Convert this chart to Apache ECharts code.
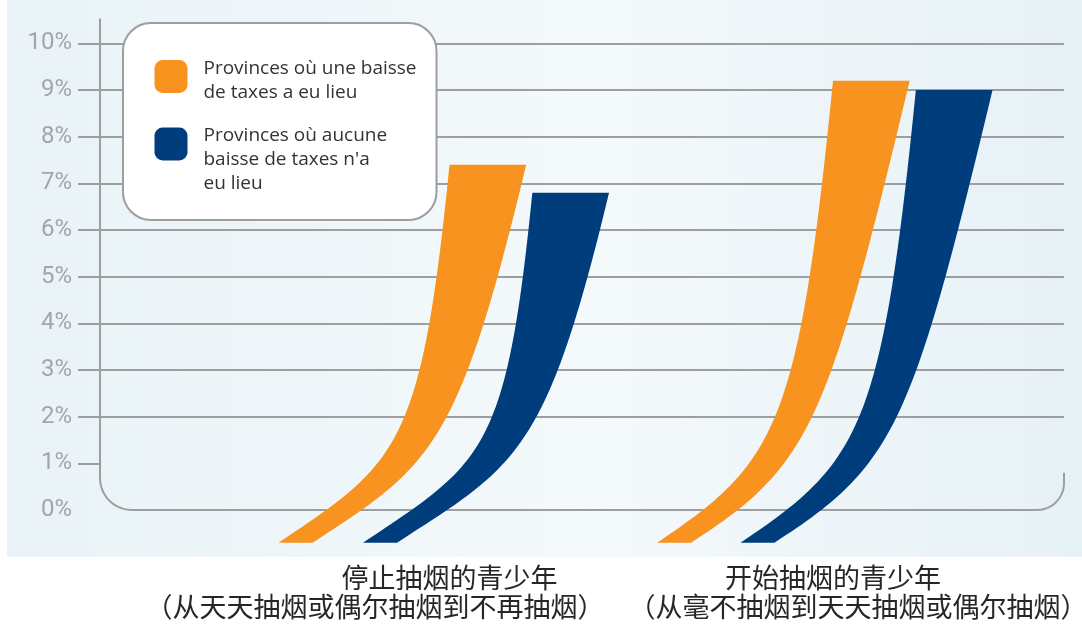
<!DOCTYPE html>
<html>
<head>
<meta charset="utf-8">
<script src="https://cdn.jsdelivr.net/npm/echarts@6/dist/echarts.min.js"></script>
<style>
html,body{margin:0;padding:0;background:#ffffff;}
#c{width:1082px;height:628px;}
</style>
</head>
<body>
<div id="c"></div>
<script>
// ---------- data ----------
const categories = ['停止抽烟的青少年', '开始抽烟的青少年'];
const categoryNotes = ['（从天天抽烟或偶尔抽烟到不再抽烟）', '（从毫不抽烟到天天抽烟或偶尔抽烟）'];
const seriesNames = ['Provinces où une baisse\nde taxes a eu lieu', 'Provinces où aucune\nbaisse de taxes n\'a\neu lieu'];
const taxCutValues = [7.4, 9.2];
const noTaxCutValues = [6.8, 9.0];
const yTicks = [0, 1, 2, 3, 4, 5, 6, 7, 8, 9, 10];

// ---------- style ----------
const ORANGE = '#F7931E';
const NAVY = '#003D7C';
const GRAY = '#9c9fa2';
const BASE = -0.7;             // ribbons start slightly below the 0% line
const noteShift = [-74.5, 25]; // horizontal shift of the second label line per category
const legendTextDrop = [7.5, 31]; // extra space above each legend text block
const CJK = 'Noto Sans CJK SC';

const chart = echarts.init(document.getElementById('c'));

function cubic(p0, p1, p2, p3, t) {
  const u = 1 - t;
  return [
    u*u*u*p0[0] + 3*u*u*t*p1[0] + 3*u*t*t*p2[0] + t*t*t*p3[0],
    u*u*u*p0[1] + 3*u*u*t*p1[1] + 3*u*t*t*p2[1] + t*t*t*p3[1]
  ];
}

function renderItem(params, api) {
  const idx = api.value(0), val = api.value(1);
  const k = params.seriesIndex;
  const B = api.size([1, 0])[0];
  const top = api.coord([idx, val]);
  const base = api.coord([idx, BASE]);
  const xc = top[0], yT = top[1], yB = base[1], H = yB - yT;
  const TL = xc + (k === 0 ? 0 : 0.216 * B);
  const TR = TL + 0.2 * B;
  const BL = TL - (0.388 * B + 0.0588 * H);
  const BR = BL + 0.0887 * B;
  const L0 = [BL, yB], L1 = [BL + 0.313 * B, yB - 0.209 * B], L2 = [TL - 0.075 * H, yT + 0.75 * H], L3 = [TL, yT];
  const R0 = [BR, yB], R1 = [BR + 0.31 * B, yB - 0.2 * B], R2 = [TR - 0.18 * H, yT + 0.75 * H], R3 = [TR, yT];
  const pts = [];
  const N = 60;
  for (let i = 0; i <= N; i++) pts.push(cubic(L0, L1, L2, L3, i / N));
  for (let i = N; i >= 0; i--) pts.push(cubic(R0, R1, R2, R3, i / N));
  return { type: 'polygon', shape: { points: pts }, style: { fill: api.visual('color') } };
}

const gridTop = 43.33, gridBottom = 118;
const labelFont = { fontFamily: CJK, fontSize: 27, lineHeight: 29, color: '#262626' };
const legendFont = { fontFamily: 'Open Sans', fontSize: 19, lineHeight: 24, color: '#333333' };

chart.setOption({
  animation: false,
  backgroundColor: '#ffffff',
  grid: [
    { left: 100, right: 18, top: gridTop, bottom: gridBottom, outerBoundsMode: 'none', containLabel: false },
    { left: 257.75, right: 57.25, top: gridTop, bottom: gridBottom, outerBoundsMode: 'none', containLabel: false }
  ],
  xAxis: [
    { gridIndex: 0, type: 'value', min: 0, max: 1, show: false },
    {
      gridIndex: 1, type: 'category', data: categories,
      axisLine: { show: false }, axisTick: { show: false }, splitLine: { show: false },
      axisLabel: Object.assign({
        interval: 0, margin: 53.5,
        formatter: function (v, i) { return '{t|' + v + '}\n{n' + i + '|' + categoryNotes[i] + '}'; },
        rich: {
          t: Object.assign({}, labelFont),
          n0: Object.assign({ padding: [0, -2 * noteShift[0], 0, 0] }, labelFont),
          n1: Object.assign({ padding: [0, 0, 0, 2 * noteShift[1]] }, labelFont)
        }
      }, labelFont)
    }
  ],
  yAxis: [
    {
      gridIndex: 0, type: 'value', min: yTicks[0], max: yTicks[yTicks.length - 1], interval: 1,
      axisLine: { show: false },
      axisTick: { show: true, length: 22, inside: false, customValues: yTicks.slice(1), lineStyle: { color: GRAY, width: 2 } },
      axisLabel: { margin: 28, color: '#a3a6a9', fontFamily: 'Roboto', fontSize: 24, formatter: function (v) { return v + '%'; } },
      splitLine: { show: true, showMinLine: false, lineStyle: { color: GRAY, width: 2 } }
    },
    { gridIndex: 1, type: 'value', min: yTicks[0], max: yTicks[yTicks.length - 1], show: false }
  ],
  legend: {
    left: 123, top: 23, orient: 'vertical',
    padding: [25.75, 20, 24.5, 31.5], itemGap: -11.75,
    itemWidth: 33, itemHeight: 33, icon: 'roundRect', selectedMode: false,
    backgroundColor: '#ffffff', borderColor: GRAY, borderWidth: 2, borderRadius: 28,
    formatter: function (name) {
      const i = seriesNames.indexOf(name);
      return '{s' + i + '|}\n' + name.split('\n').map(function (l) { return '{r|' + l + '}'; }).join('\n');
    },
    textStyle: Object.assign({
      padding: [0, 0, 0, 11],
      rich: {
        s0: { fontSize: 1, lineHeight: legendTextDrop[0] },
        s1: { fontSize: 1, lineHeight: legendTextDrop[1] },
        r: Object.assign({}, legendFont)
      }
    }, legendFont),
    data: seriesNames
  },
  series: [
    {
      type: 'custom', name: seriesNames[0], xAxisIndex: 1, yAxisIndex: 1, clip: false, z: 3,
      itemStyle: { color: ORANGE }, renderItem: renderItem,
      encode: { x: 0, y: 1 },
      data: categories.map(function (c, i) { return [i, taxCutValues[i]]; })
    },
    {
      type: 'custom', name: seriesNames[1], xAxisIndex: 1, yAxisIndex: 1, clip: false, z: 3,
      itemStyle: { color: NAVY }, renderItem: renderItem,
      encode: { x: 0, y: 1 },
      data: categories.map(function (c, i) { return [i, noTaxCutValues[i]]; })
    }
  ]
});

// ---------- background panel and rounded axis frame, placed from the axis scale ----------
function px(x, y) { return chart.convertToPixel({ gridIndex: 0 }, [x, y]); }
const o = px(0, 0), e = px(1, 0);
const xL = o[0], y0 = o[1], xR = e[0];
const yTopL = px(0, 10.53)[1];
const yTopR = px(0, 0.8)[1];
const panelBottom = px(0, -1)[1];
const r1 = 32, r2 = 27;
const frame = [[xL, yTopL], [xL, y0 - r1]];
for (let i = 1; i <= 16; i++) { const a = Math.PI - (Math.PI / 2) * i / 16; frame.push([xL + r1 + r1 * Math.cos(a), y0 - r1 + r1 * Math.sin(a)]); }
frame.push([xR - r2, y0]);
for (let i = 1; i <= 16; i++) { const a = Math.PI / 2 - (Math.PI / 2) * i / 16; frame.push([xR - r2 + r2 * Math.cos(a), y0 - r2 + r2 * Math.sin(a)]); }
frame.push([xR, yTopR]);

chart.setOption({
  graphic: [
    {
      type: 'rect', z: -10, silent: true,
      shape: { x: 7, y: 0, width: 1082 - 7, height: panelBottom },
      style: {
        fill: { type: 'linear', x: 0, y: 0, x2: 1, y2: 0, colorStops: [
          { offset: 0, color: '#e9f3f7' }, { offset: 0.55, color: '#f4f9fb' }, { offset: 1, color: '#e6f1f6' }
        ] }
      }
    },
    {
      type: 'polyline', z: 1, silent: true,
      shape: { points: frame },
      style: { stroke: GRAY, lineWidth: 2, fill: null }
    }
  ]
});
</script>
</body>
</html>
